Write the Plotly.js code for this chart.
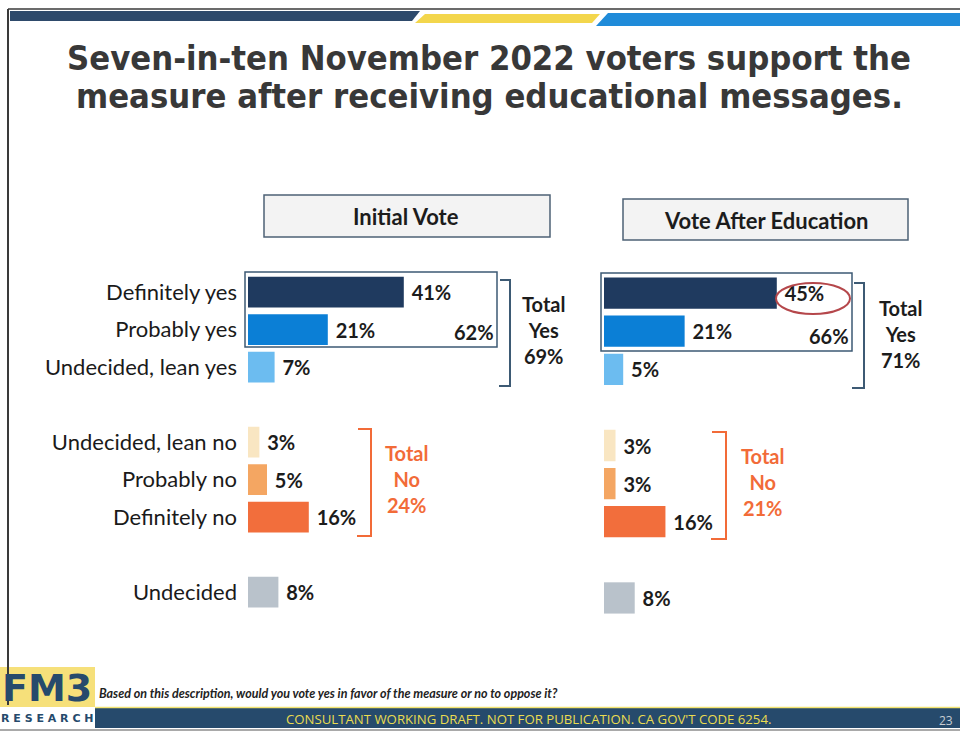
<!DOCTYPE html>
<html><head><meta charset="utf-8">
<script src="https://cdn.plot.ly/plotly-3.0.1.min.js"></script>
<style>html,body{margin:0;padding:0;background:#fff}#chart{width:960px;height:732px}</style>
</head><body><div id="chart"></div>
<script>
// ---- data ----
const categories = ['Definitely yes', 'Probably yes', 'Undecided, lean yes', 'Undecided, lean no', 'Probably no', 'Definitely no', 'Undecided'];
const initialVote = [41, 21, 7, 3, 5, 16, 8];
const afterEducation = [45, 21, 5, 3, 3, 16, 8];
const barColors = ['#1f3a5f', '#0b7fd6', '#6cbcf0', '#f9e6c2', '#f4a662', '#f26e3c', '#b9c2cb'];
const panelTitles = ['Initial Vote', 'Vote After Education'];
const totalYes = [62, 66];
const totalYesAll = [69, 71];
const totalNo = [24, 21];
const titleLines = ['Seven-in-ten November 2022 voters support the', 'measure after receiving educational messages.'];
const questionText = 'Based on this description, would you vote yes in favor of the measure or no to oppose it?';
const footerText = "CONSULTANT WORKING DRAFT. NOT FOR PUBLICATION. CA GOV'T CODE 6254.";
const pageNumber = '23';

// ---- layout helpers ----
const W = 960, H = 732;
const px = x => x / W;
const py = y => 1 - y / H;
const rowOrder = ['Definitely yes', 'Probably yes', 'Undecided, lean yes', ' ', 'Undecided, lean no', 'Probably no', 'Definitely no', '  ', 'Undecided'];

const labelFont = {family: 'Lato, "Open Sans", sans-serif', size: 22, color: '#1a1a1a'};
const boldFont = {family: 'Lato, "Open Sans", sans-serif', size: 20, color: '#1c1c1c', weight: 'bold'};

function barTrace(vals, xa, ya) {
  return {
    type: 'bar', orientation: 'h', x: vals, y: categories,
    xaxis: xa, yaxis: ya,
    marker: {color: barColors, line: {width: 0}},
    texttemplate: '\u00a0%{x}%', textposition: 'outside', cliponaxis: false,
    textfont: boldFont, hoverinfo: 'none', width: 0.82
  };
}

const data = [barTrace(initialVote, 'x', 'y'), barTrace(afterEducation, 'x2', 'y2')];

const yBase = {type: 'category', categoryarray: rowOrder, categoryorder: 'array', showgrid: false, zeroline: false, showline: false, ticks: ''};
const layout = {
  width: W, height: H, margin: {l: 0, r: 0, t: 0, b: 0},
  paper_bgcolor: '#ffffff', plot_bgcolor: 'rgba(0,0,0,0)', showlegend: false,
  bargap: 0.18,
  xaxis: {domain: [px(248), px(248 + 3.8 * 60)], range: [0, 60], visible: false, fixedrange: true},
  xaxis2: {domain: [px(604), px(604 + 3.84 * 60)], range: [0, 60], visible: false, fixedrange: true, anchor: 'y2'},
  yaxis: Object.assign({}, yBase, {domain: [py(610.75), py(273.25)], range: [8.5, -0.5], tickfont: labelFont, ticklabelstandoff: 10, anchor: 'x'}),
  yaxis2: Object.assign({}, yBase, {domain: [py(617), py(274)], range: [8.5, -0.5], showticklabels: false, anchor: 'x2'}),
  shapes: [], annotations: []
};

const S = layout.shapes, A = layout.annotations;
const rect = (x0, y0, x1, y1, o) => S.push(Object.assign({type: 'rect', xref: 'paper', yref: 'paper', x0: px(x0), x1: px(x1), y0: py(y0), y1: py(y1), layer: 'below'}, o));
const path = (pts, o) => S.push(Object.assign({type: 'path', xref: 'paper', yref: 'paper', path: pts.map((p, i) => (i ? 'L' : 'M') + px(p[0]) + ',' + py(p[1])).join(' ')}, o));
const note = (x, y, text, font, o) => A.push(Object.assign({xref: 'paper', yref: 'paper', x: px(x), y: py(y), text: text, showarrow: false, font: font, xanchor: 'center', yanchor: 'middle'}, o));

// top decorations
path([[8, 9], [960, 9]], {line: {color: '#3a3a3a', width: 1.5}});
path([[8, 9], [8, 705]], {line: {color: '#3a3a3a', width: 2}});
path([[10, 11], [420, 11], [412, 21], [10, 21], [10, 11]], {fillcolor: '#2e4a6b', line: {width: 0}});
path([[425, 14], [600, 14], [592, 23], [415, 23], [425, 14]], {fillcolor: '#f3d64c', line: {width: 0}});
path([[608, 13], [960, 13], [960, 26], [596, 26], [608, 13]], {fillcolor: '#1f8bd9', line: {width: 0}});

// panel headers
rect(264, 195, 550, 237, {fillcolor: '#f3f3f3', line: {color: '#4d6276', width: 1.5}});
rect(623, 199, 908, 240, {fillcolor: '#f3f3f3', line: {color: '#4d6276', width: 1.5}});

// total yes boxes and brackets
rect(245, 272, 497, 347, {fillcolor: 'rgba(0,0,0,0)', line: {color: '#3d5a74', width: 1.5}, layer: 'above'});
rect(601, 273, 852, 351, {fillcolor: 'rgba(0,0,0,0)', line: {color: '#3d5a74', width: 1.5}, layer: 'above'});
path([[500, 280], [510, 280], [510, 386], [499, 386]], {line: {color: '#3d5a74', width: 2}});
path([[854, 283], [864, 283], [864, 388], [852, 388]], {line: {color: '#3d5a74', width: 2}});
// total no brackets
path([[358, 429], [371, 429], [371, 536], [357, 536]], {line: {color: '#f26b38', width: 2}});
path([[712, 432], [726, 432], [726, 539], [711, 539]], {line: {color: '#f26b38', width: 2}});
// highlight ellipse
S.push({type: 'circle', xref: 'paper', yref: 'paper', x0: px(776), x1: px(850), y0: py(283), y1: py(314), line: {color: '#b5474b', width: 2}});

// footer
rect(0, 667, 95, 707, {fillcolor: '#f6e07a', line: {width: 0}});
rect(95, 708, 960, 728, {fillcolor: '#264a6c', line: {width: 0}});
path([[95, 707.5], [960, 707.5]], {line: {color: '#f2e470', width: 1.5}});
path([[0, 730], [960, 730]], {line: {color: '#555', width: 1}});

// texts
const titleFont = {family: '"DejaVu Sans Condensed", "DejaVu Sans", sans-serif', size: 34.3, color: '#383838', weight: 'bold'};
note(489, 58, titleLines[0], titleFont, {});
note(489, 96, titleLines[1], titleFont, {});
const headFont = Object.assign({}, boldFont, {size: 22});
note(406, 216, panelTitles[0], headFont, {});
note(766, 220, panelTitles[1], headFont, {});
note(496, 332, totalYes[0] + '%', boldFont, {xanchor: 'right'});
note(851, 336, totalYes[1] + '%', boldFont, {xanchor: 'right'});
note(543, 330, 'Total<br>Yes<br>' + totalYesAll[0] + '%', boldFont, {});
note(900, 334, 'Total<br>Yes<br>' + totalYesAll[1] + '%', boldFont, {});
const orangeFont = Object.assign({}, boldFont, {color: '#f26b38'});
note(406, 479, 'Total<br>No<br>' + totalNo[0] + '%', orangeFont, {});
note(762, 482, 'Total<br>No<br>' + totalNo[1] + '%', orangeFont, {});
note(47, 688, 'FM3', {family: '"DejaVu Sans", sans-serif', size: 38, color: '#264a6c', weight: 'bold'}, {});
note(47, 718, 'R E S E A R C H', {family: '"DejaVu Sans", sans-serif', size: 11, color: '#264a6c', weight: 'bold'}, {});
note(97, 693, '<i>' + questionText + '</i>', {family: 'Lato, sans-serif', size: 12.5, color: '#222', weight: 'bold'}, {xanchor: 'left'});
note(528, 719, footerText, {family: '"Open Sans", sans-serif', size: 13.2, color: '#eadc50'}, {});
note(946, 720, pageNumber, {family: '"Open Sans", sans-serif', size: 12, color: '#c8ccd2'}, {});

Plotly.newPlot('chart', data, layout, {staticPlot: true, displayModeBar: false});
</script></body></html>
